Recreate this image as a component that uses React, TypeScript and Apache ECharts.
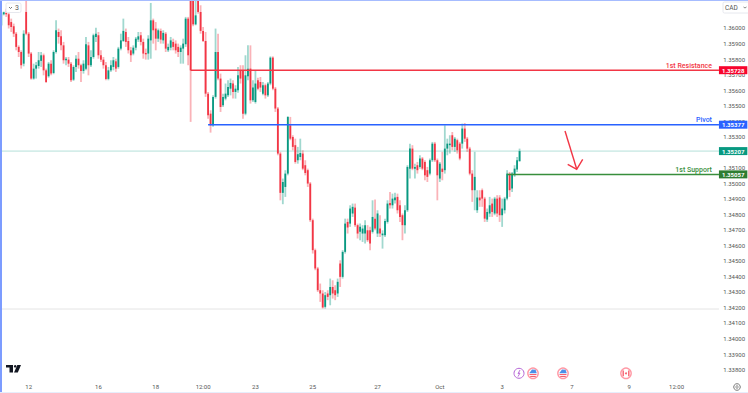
import React, { useEffect, useRef } from "react";
import * as echarts from "echarts";

const FONT = "Roboto, 'Open Sans', sans-serif";

const tickSlots = [11, 39, 62, 81, 102, 125, 151, 176, 201, 229, 252, 271];
const tickLabels = ["12", "16", "18", "12:00", "23", "25", "27", "Oct", "3", "7", "9", "12:00"];
const slotCount = 289;

// open, close, low, high
const candles = [
[1.36017,1.36092,1.36011,1.36103],[1.36088,1.36101,1.36081,1.36105],[1.36096,1.36088,1.36071,1.36124],[1.36088,1.36017,1.35996,1.36114],
[1.36038,1.36006,1.35974,1.36060],[1.36011,1.35963,1.35942,1.36028],[1.35963,1.35878,1.35856,1.35974],[1.35878,1.35845,1.35813,1.35888],
[1.35845,1.35760,1.35738,1.35856],[1.35770,1.35963,1.35753,1.35985],[1.36103,1.35963,1.35953,1.36178],[1.35963,1.35835,1.35813,1.35974],
[1.35835,1.35674,1.35667,1.35845],[1.35674,1.35738,1.35667,1.35770],[1.35738,1.35760,1.35674,1.35781],[1.35755,1.35792,1.35738,1.35845],
[1.35788,1.35824,1.35749,1.35845],[1.35824,1.35727,1.35695,1.35835],[1.35727,1.35652,1.35646,1.35738],[1.35689,1.35770,1.35680,1.35781],
[1.35770,1.35706,1.35695,1.35792],[1.35710,1.35845,1.35702,1.35856],[1.35845,1.35985,1.35835,1.36049],[1.35974,1.35942,1.35899,1.35996],
[1.35946,1.35888,1.35856,1.35985],[1.35888,1.35792,1.35770,1.35910],[1.35792,1.35802,1.35760,1.35813],[1.35796,1.35770,1.35749,1.35813],
[1.35770,1.35663,1.35652,1.35781],[1.35667,1.35749,1.35659,1.35760],[1.35749,1.35802,1.35717,1.35824],[1.35802,1.35760,1.35738,1.35845],
[1.35760,1.35723,1.35652,1.35770],[1.35723,1.35770,1.35706,1.35792],[1.35738,1.35895,1.35727,1.35942],[1.35888,1.35760,1.35695,1.35910],
[1.35760,1.35813,1.35749,1.35856],[1.35813,1.35953,1.35802,1.35963],[1.35942,1.35963,1.35910,1.36002],[1.35953,1.35824,1.35802,1.35974],
[1.35824,1.35796,1.35781,1.35856],[1.35796,1.35760,1.35738,1.35813],[1.35760,1.35672,1.35663,1.35781],[1.35672,1.35727,1.35663,1.35749],
[1.35727,1.35760,1.35717,1.35792],[1.35749,1.35792,1.35727,1.35813],[1.35785,1.35738,1.35717,1.35802],[1.35749,1.35867,1.35738,1.35878],
[1.35867,1.35920,1.35856,1.35963],[1.35916,1.35981,1.35910,1.36060],[1.35974,1.35910,1.35878,1.35996],[1.35916,1.35856,1.35835,1.35942],
[1.35856,1.35824,1.35781,1.35878],[1.35835,1.35873,1.35824,1.35888],[1.35873,1.35931,1.35856,1.35942],[1.35925,1.35946,1.35910,1.35974],
[1.35953,1.35910,1.35888,1.35974],[1.35910,1.35835,1.35802,1.35931],[1.35839,1.35830,1.35796,1.35867],[1.35835,1.35931,1.35796,1.35953],
[1.35920,1.36049,1.35802,1.36161],[1.36049,1.35985,1.35899,1.36060],[1.35996,1.35931,1.35856,1.36038],[1.35931,1.35985,1.35910,1.35996],
[1.35981,1.35925,1.35899,1.35996],[1.35920,1.35968,1.35899,1.35985],[1.35963,1.35867,1.35845,1.35974],[1.35856,1.35878,1.35845,1.35899],
[1.35873,1.35920,1.35856,1.35942],[1.35910,1.35878,1.35856,1.35931],[1.35899,1.35856,1.35835,1.35920],[1.35878,1.35845,1.35813,1.35899],
[1.35845,1.35873,1.35770,1.35888],[1.35867,1.35899,1.35770,1.35931],[1.35895,1.36060,1.35878,1.36071],[1.36060,1.35824,1.35760,1.36071],
[1.36200,1.35727,1.35395,1.36285],[1.36178,1.36023,1.36011,1.36242],[1.36023,1.36081,1.36017,1.36221],[1.36199,1.36103,1.36092,1.36242],
[1.36103,1.35981,1.35963,1.36146],[1.35981,1.35916,1.35910,1.36006],[1.35916,1.35577,1.35556,1.35974],[1.35577,1.35438,1.35416,1.35588],
[1.35448,1.35373,1.35326,1.35470],[1.35373,1.35556,1.35363,1.35566],[1.35556,1.35845,1.35545,1.35996],[1.35845,1.35674,1.35663,1.35963],
[1.35674,1.35491,1.35459,1.35706],[1.35502,1.35556,1.35491,1.35577],[1.35545,1.35577,1.35534,1.35642],[1.35566,1.35620,1.35556,1.35663],
[1.35609,1.35646,1.35566,1.35674],[1.35642,1.35588,1.35545,1.35663],[1.35588,1.35609,1.35545,1.35631],[1.35599,1.35695,1.35582,1.35749],
[1.35727,1.35674,1.35642,1.35760],[1.35723,1.35448,1.35416,1.35760],[1.35448,1.35695,1.35438,1.35824],[1.35689,1.35738,1.35663,1.35888],
[1.35738,1.35534,1.35513,1.35888],[1.35534,1.35616,1.35523,1.35663],[1.35523,1.35642,1.35513,1.35727],[1.35663,1.35609,1.35599,1.35680],
[1.35652,1.35616,1.35588,1.35684],[1.35577,1.35631,1.35566,1.35652],[1.35631,1.35566,1.35545,1.35642],[1.35566,1.35642,1.35556,1.35652],
[1.35642,1.35809,1.35631,1.35817],[1.35809,1.35609,1.35599,1.35817],[1.35609,1.35481,1.35459,1.35620],[1.35481,1.35191,1.35180,1.35491],
[1.35191,1.34938,1.34890,1.35202],[1.34938,1.35008,1.34865,1.35030],[1.34976,1.35062,1.34912,1.35084],[1.35062,1.35427,1.35051,1.35431],
[1.35373,1.35287,1.35277,1.35427],[1.35298,1.35234,1.35212,1.35309],[1.35245,1.35137,1.35126,1.35287],[1.35148,1.35187,1.35126,1.35234],
[1.35169,1.35195,1.35148,1.35287],[1.35191,1.35094,1.35084,1.35212],[1.35116,1.35066,1.35051,1.35148],[1.35084,1.34998,1.34976,1.35094],
[1.34998,1.34762,1.34751,1.35008],[1.34762,1.34569,1.34547,1.34772],[1.34569,1.34451,1.34440,1.34579],[1.34451,1.34311,1.34300,1.34461],
[1.34311,1.34290,1.34236,1.34354],[1.34290,1.34200,1.34193,1.34311],[1.34204,1.34279,1.34193,1.34300],[1.34290,1.34268,1.34247,1.34311],
[1.34279,1.34332,1.34214,1.34386],[1.34332,1.34290,1.34257,1.34375],[1.34311,1.34279,1.34247,1.34343],[1.34290,1.34365,1.34268,1.34386],
[1.34483,1.34397,1.34332,1.34504],[1.34397,1.34558,1.34386,1.34569],[1.34558,1.34740,1.34547,1.34772],[1.34751,1.34715,1.34676,1.34772],
[1.34740,1.34837,1.34719,1.34858],[1.34805,1.34848,1.34783,1.34869],[1.34843,1.34730,1.34719,1.34869],[1.34730,1.34676,1.34644,1.34740],
[1.34687,1.34719,1.34633,1.34740],[1.34676,1.34708,1.34622,1.34730],[1.34676,1.34730,1.34612,1.34762],[1.34697,1.34633,1.34622,1.34730],
[1.34697,1.34612,1.34569,1.34719],[1.34687,1.34783,1.34676,1.34890],[1.34772,1.34708,1.34697,1.34895],[1.34676,1.34805,1.34654,1.34826],
[1.34708,1.34676,1.34654,1.34794],[1.34665,1.34676,1.34579,1.34697],[1.34665,1.34757,1.34654,1.34772],[1.34751,1.34869,1.34740,1.34890],
[1.34873,1.34858,1.34837,1.34944],[1.34858,1.34901,1.34837,1.34933],[1.34890,1.34908,1.34869,1.34938],[1.34912,1.34826,1.34805,1.34933],
[1.34858,1.34783,1.34751,1.34890],[1.34794,1.34730,1.34633,1.34805],[1.34730,1.34826,1.34676,1.34858],[1.34826,1.35105,1.34815,1.35116],
[1.35094,1.35223,1.35030,1.35255],[1.35223,1.35094,1.35084,1.35245],[1.35094,1.35105,1.35030,1.35126],[1.35116,1.35084,1.35062,1.35137],
[1.35105,1.35159,1.35094,1.35180],[1.35159,1.35094,1.35084,1.35169],[1.35137,1.35051,1.35019,1.35148],[1.35084,1.35041,1.35008,1.35105],
[1.35062,1.35148,1.35051,1.35159],[1.35148,1.35255,1.35137,1.35266],[1.35255,1.35148,1.35137,1.35266],[1.35148,1.35051,1.34890,1.35159],
[1.35030,1.35126,1.35008,1.35137],[1.35094,1.35073,1.35019,1.35202],[1.35084,1.35223,1.35062,1.35373],[1.35223,1.35255,1.35180,1.35287],
[1.35245,1.35255,1.35191,1.35309],[1.35309,1.35234,1.35212,1.35330],[1.35234,1.35287,1.35202,1.35298],[1.35277,1.35212,1.35191,1.35287],
[1.35255,1.35159,1.35148,1.35266],[1.35255,1.35352,1.35223,1.35384],[1.35352,1.35287,1.35266,1.35388],[1.35287,1.35223,1.35202,1.35298],
[1.35223,1.35062,1.35051,1.35234],[1.35062,1.34955,1.34880,1.35084],[1.34955,1.35041,1.34826,1.35202],[1.34826,1.34908,1.34809,1.34955],
[1.34908,1.34890,1.34848,1.34955],[1.34955,1.34901,1.34848,1.34966],[1.34901,1.34772,1.34751,1.34912],[1.34766,1.34815,1.34751,1.34837],
[1.34805,1.34858,1.34783,1.34912],[1.34869,1.34815,1.34783,1.34901],[1.34805,1.34901,1.34794,1.34912],[1.34901,1.34805,1.34783,1.34923],
[1.34908,1.34794,1.34751,1.34923],[1.34794,1.34837,1.34719,1.34901],[1.34826,1.34901,1.34805,1.34912],[1.34901,1.35062,1.34890,1.35084],
[1.35062,1.34955,1.34912,1.35073],[1.34966,1.35062,1.34944,1.35073],[1.35051,1.35094,1.35041,1.35116],[1.35088,1.35148,1.35073,1.35169],
[1.35143,1.35207,1.35137,1.35223],
];

const levelNames = ["1st Resistance", "Pivot", "1st Support"];
const levelValues = [1.35728, 1.35377, 1.35057];
const levelStarts = [76, 83, 203];
const levelColors = ["#f23645", "#2962ff", "#388e3c"];
const tagColors = ["#f7052d", "#2962ff", "#2e7d32"];
const lastPrice = 1.35207;
const lowGuide = 1.3419;

const UP = "#089981";
const DOWN = "#f23645";

function buildOption() {
  const categories = Array.from({ length: slotCount }, (_, i) => {
    const k = tickSlots.indexOf(i);
    return k >= 0 ? tickLabels[k] : "";
  });
  const lastSlot = slotCount - 1;

  const levelSeries = levelNames.map((name, k) => ({
    type: "line",
    name,
    silent: true,
    symbol: "circle",
    symbolSize: 0,
    showSymbol: true,
    showAllSymbol: true,
    z: 5,
    clip: false,
    lineStyle: { color: levelColors[k], width: 1.5 },
    data: [
      [levelStarts[k], levelValues[k]],
      {
        value: [lastSlot, levelValues[k]],
        label: {
          show: true,
          position: "top",
          align: "right",
          offset: [-7, 0],
          distance: 1,
          formatter: name,
          color: levelColors[k],
          fontFamily: FONT,
          fontSize: 7,
          fontWeight: 500,
        },
      },
    ],
    endLabel: {
      show: true,
      distance: 0,
      formatter: levelValues[k].toFixed(5),
      backgroundColor: tagColors[k],
      color: "#fff",
      fontFamily: FONT,
      fontWeight: "bold",
      fontSize: 6,
      padding: [1, 3, 1, 3],
    },
  }));

  const priceLine = {
    type: "line",
    name: "Last",
    silent: true,
    symbol: "none",
    z: 1,
    lineStyle: { color: "rgba(8,153,129,0.3)", width: 1 },
    data: [[0, lastPrice], [lastSlot, lastPrice]],
    endLabel: {
      show: true,
      distance: 0,
      formatter: lastPrice.toFixed(5),
      backgroundColor: UP,
      color: "#fff",
      fontFamily: FONT,
      fontWeight: "bold",
      fontSize: 6,
      padding: [1, 3, 1, 3],
    },
  };

  const guideLine = {
    type: "line",
    name: "Low",
    silent: true,
    symbol: "none",
    z: 1,
    lineStyle: { color: "#e4e4e4", width: 1 },
    data: [[0, lowGuide], [lastSlot, lowGuide]],
  };

  const candleSeries = {
    type: "custom",
    name: "USD/CAD",
    z: 3,
    clip: true,
    encode: { x: 0, y: [1, 2, 3, 4] },
    data: candles.map((c, i) => [i, c[0], c[1], c[2], c[3]]),
    renderItem: (_p: any, api: any) => {
      const i = api.value(0);
      const o = api.value(1);
      const c = api.value(2);
      const x = api.coord([i, o])[0];
      const yO = api.coord([i, o])[1];
      const yC = api.coord([i, c])[1];
      const yL = api.coord([i, api.value(3)])[1];
      const yH = api.coord([i, api.value(4)])[1];
      const up = c >= o;
      const main = up ? UP : DOWN;
      const pale = up ? "rgba(8,153,129,0.38)" : "rgba(242,54,69,0.38)";
      return {
        type: "group",
        children: [
          { type: "rect", shape: { x: x - 0.9, y: yH, width: 1.8, height: yL - yH }, style: { fill: pale } },
          {
            type: "rect",
            shape: { x: x - 0.9, y: Math.min(yO, yC), width: 1.8, height: Math.max(Math.abs(yO - yC), 1) },
            style: { fill: main },
          },
        ],
      };
    },
  };

  const flag = (cx: number) => ({
    type: "group",
    z: 20,
    children: [
      { type: "circle", shape: { cx, cy: 373.3, r: 5.2 }, style: { fill: "#fff", stroke: "#ff9aa6", lineWidth: 1.4 } },
      { type: "rect", shape: { x: cx - 3.5, y: 374, width: 7, height: 1.1 }, style: { fill: "#f7606f" } },
      { type: "rect", shape: { x: cx - 2.8, y: 376, width: 5.6, height: 1 }, style: { fill: "#f7606f" } },
      { type: "polygon", shape: { points: [[cx - 3.8, 373.2], [cx - 1, 369.6], [cx + 2.6, 369.8], [cx + 3.8, 373.2]] }, style: { fill: "#4d90e8" } },
    ],
  });

  const graphic = [
    { type: "rect", z: 30, shape: { x: 0, y: 0, width: 2, height: 392 }, style: { fill: "#7c9cff" } },
    { type: "rect", z: 30, shape: { x: 0, y: 0, width: 748, height: 1 }, style: { fill: "#a6bcff" } },
    { type: "rect", z: 30, shape: { x: 0, y: 392, width: 748, height: 1 }, style: { fill: "#e6eefc" } },
    // interval button
    { type: "rect", z: 20, shape: { x: 6, y: 3, width: 15, height: 9.5, r: 1.5 }, style: { fill: "#fff", stroke: "#e6e8ee", lineWidth: 1 } },
    { type: "polyline", z: 21, shape: { points: [[9, 7], [10.5, 8.5], [12, 7]] }, style: { stroke: "#555", lineWidth: 0.8, fill: "none" } },
    { type: "text", z: 21, x: 15, y: 4, style: { text: "3", fontSize: 7, fill: "#555", fontFamily: FONT } },
    // currency button
    { type: "rect", z: 20, shape: { x: 723, y: 2, width: 28, height: 11, r: 1.5 }, style: { fill: "#fff", stroke: "#e6e8ee", lineWidth: 1 } },
    { type: "text", z: 21, x: 725, y: 4, style: { text: "CAD", fontSize: 6.5, fill: "#555", fontFamily: FONT } },
    { type: "polyline", z: 21, shape: { points: [[743.5, 7], [745, 8], [746.5, 7]] }, style: { stroke: "#555", lineWidth: 0.7, fill: "none" } },
    // arrow
    { type: "polyline", z: 15, shape: { points: [[565, 131], [576.7, 169]] }, style: { stroke: "#f23645", lineWidth: 1.4, fill: "none" } },
    { type: "polyline", z: 15, shape: { points: [[567.7, 164.3], [576.7, 169.3], [582.7, 159.3]] }, style: { stroke: "#f23645", lineWidth: 1.4, fill: "none" } },
    // logo
    { type: "polygon", z: 20, shape: { points: [[6, 365], [13, 365], [13, 372.4], [9.5, 372.4], [9.5, 367.6], [6, 367.6]] }, style: { fill: "#131722" } },
    { type: "circle", z: 20, shape: { cx: 15.2, cy: 366.3, r: 1.3 }, style: { fill: "#131722" } },
    { type: "polygon", z: 20, shape: { points: [[17.3, 365], [21, 365], [17.8, 372.4], [14, 372.4]] }, style: { fill: "#131722" } },
    // calendar markers
    { type: "circle", z: 20, shape: { cx: 519, cy: 373.3, r: 5 }, style: { fill: "#fff", stroke: "#b563d6", lineWidth: 1 } },
    { type: "polyline", z: 21, shape: { points: [[520, 370], [518, 373.6], [520, 373], [518, 376.6]] }, style: { stroke: "#b563d6", lineWidth: 0.9, fill: "none" } },
    flag(533),
    flag(563),
    { type: "circle", z: 20, shape: { cx: 626, cy: 373.3, r: 5.2 }, style: { fill: "#fff", stroke: "#ff9aa6", lineWidth: 1.4 } },
    { type: "rect", z: 21, shape: { x: 622.5, y: 370.4, width: 1.4, height: 5.8 }, style: { fill: "#f7606f" } },
    { type: "rect", z: 21, shape: { x: 628.1, y: 370.4, width: 1.4, height: 5.8 }, style: { fill: "#f7606f" } },
    { type: "circle", z: 21, shape: { cx: 626, cy: 373.3, r: 1 }, style: { fill: "#f7606f" } },
    // settings
    { type: "circle", z: 20, shape: { cx: 737, cy: 387, r: 3.3 }, style: { fill: "none", stroke: "#555", lineWidth: 0.8 } },
    { type: "circle", z: 20, shape: { cx: 737, cy: 387, r: 1.2 }, style: { fill: "none", stroke: "#555", lineWidth: 0.7 } },
  ];

  return {
    animation: false,
    backgroundColor: "#fff",
    grid: { left: 0, right: 26, top: 0, bottom: 7.9 },
    xAxis: {
      type: "category",
      data: categories,
      boundaryGap: true,
      axisLine: { show: false },
      axisTick: { show: false },
      splitLine: { show: false },
      axisLabel: {
        interval: (_i: number, v: string) => v !== "",
        hideOverlap: false,
        margin: -2,
        color: "#555",
        fontFamily: FONT,
        fontSize: 6,
      },
    },
    yAxis: {
      type: "value",
      position: "right",
      min: 1.337,
      max: 1.3618,
      interval: 0.001,
      scale: true,
      axisLine: { show: false },
      axisTick: { show: false },
      splitLine: { show: false },
      axisLabel: {
        margin: 3,
        color: "#555",
        fontFamily: FONT,
        fontSize: 6,
        formatter: (v: number) => (v > 1.3375 && v < 1.3605 ? v.toFixed(5) : ""),
      },
    },
    series: [guideLine, priceLine, candleSeries, ...levelSeries],
    graphic,
  };
}

export default function App() {
  const ref = useRef<HTMLDivElement>(null);
  useEffect(() => {
    document.body.style.margin = "0";
    const chart = echarts.init(ref.current!, null, { renderer: "svg" });
    chart.setOption(buildOption() as any);
    return () => chart.dispose();
  }, []);
  return <div ref={ref} style={{ width: 748, height: 393 }} />;
}
